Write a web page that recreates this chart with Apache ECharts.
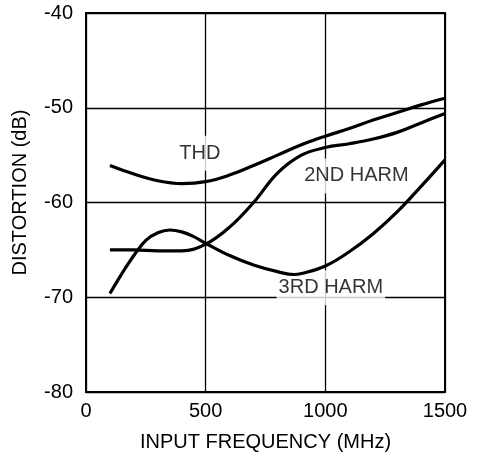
<!DOCTYPE html>
<html>
<head>
<meta charset="utf-8">
<script src="https://cdn.jsdelivr.net/npm/echarts@6/dist/echarts.min.js"></script>
<style>
html,body{margin:0;padding:0;background:#fff;}
#chart{width:477px;height:460px;}
</style>
</head>
<body>
<div id="chart"></div>
<script>
// Input frequency (MHz) and distortion (dB)
var thdX = [100, 200, 300, 400, 500, 600, 700, 800, 900, 1000, 1100, 1200, 1300, 1400, 1500];
var thdY = [-56.1, -57.0, -57.7, -58.0, -57.8, -57.1, -56.1, -55.0, -53.9, -53.0, -52.2, -51.3, -50.5, -49.7, -49.0];

var h2X = [100, 200, 300, 400, 500, 600, 700, 800, 900, 1000, 1100, 1200, 1300, 1400, 1500];
var h2Y = [-65.0, -65.0, -65.1, -65.1, -64.4, -62.6, -60.0, -56.9, -55.0, -54.2, -53.8, -53.3, -52.6, -51.6, -50.6];

var h3X = [100, 150, 200, 250, 300, 350, 400, 450, 500, 600, 700, 800, 870, 900, 1000, 1100, 1200, 1300, 1400, 1500];
var h3Y = [-69.6, -67.5, -65.6, -64.0, -63.2, -62.9, -63.1, -63.6, -64.3, -65.6, -66.6, -67.3, -67.6, -67.5, -66.7, -65.2, -63.3, -61.0, -58.3, -55.5];

var curveLabels = ['THD', '2ND HARM', '3RD HARM'];
var curveLabelX = [476, 1130, 1023];
var curveLabelY = [-54.8, -57.2, -69.0];

var xTicks = [0, 500, 1000, 1500];
var yTicks = [-80, -70, -60, -50, -40];

function pairs(xs, ys) { return xs.map(function (x, i) { return [x, ys[i]]; }); }

var font = 'Liberation Sans, Arial, Helvetica, sans-serif';
var fs = 20;
var lineStyle = { color: '#000', width: 3.2 };

var chart = echarts.init(document.getElementById('chart'), null, { renderer: 'canvas' });
chart.setOption({
  animation: false,
  backgroundColor: '#fff',
  grid: { left: 86, right: 32, top: 13, bottom: 68, show: true, borderColor: '#000', borderWidth: 2, backgroundColor: 'transparent' },
  xAxis: {
    type: 'value', min: xTicks[0], max: xTicks[xTicks.length - 1], interval: 500,
    name: 'INPUT FREQUENCY (MHz)', nameLocation: 'middle', nameGap: 40,
    nameTextStyle: { fontFamily: font, fontSize: fs, color: '#000' },
    axisLine: { show: true, lineStyle: { color: '#000', width: 2 } },
    axisTick: { show: false },
    axisLabel: { fontFamily: font, fontSize: fs, color: '#000', margin: 9, formatter: function (v) { return String(v); } },
    splitLine: { show: true, lineStyle: { color: '#000', width: 1.3 } }
  },
  yAxis: {
    type: 'value', min: yTicks[0], max: yTicks[yTicks.length - 1], interval: 10,
    name: 'DISTORTION (dB)', nameLocation: 'middle', nameGap: 56,
    nameTextStyle: { fontFamily: font, fontSize: fs, color: '#000', padding: [0, 0, 0, 20] },
    axisLine: { show: true, lineStyle: { color: '#000', width: 2 } },
    axisTick: { show: false },
    axisLabel: { fontFamily: font, fontSize: fs, color: '#000', margin: 13, formatter: function (v) { return String(v); } },
    splitLine: { show: true, lineStyle: { color: '#000', width: 1.3 } }
  },
  series: [
    {
      type: 'scatter', z: 1, symbolSize: 0, silent: true,
      data: curveLabels.map(function (n, i) { return [curveLabelX[i], curveLabelY[i], n]; }),
      label: {
        show: true, position: 'inside', color: '#000', fontFamily: font, fontSize: fs,
        backgroundColor: '#fff', padding: [8, 2, 7, 2],
        formatter: function (p) { return p.value[2]; }
      }
    },
    { name: 'THD', type: 'line', z: 3, smooth: 0.4, showSymbol: false, lineStyle: lineStyle, data: pairs(thdX, thdY) },
    { name: '2ND HARM', type: 'line', z: 3, smooth: 0.4, showSymbol: false, lineStyle: lineStyle, data: pairs(h2X, h2Y) },
    { name: '3RD HARM', type: 'line', z: 3, smooth: 0.4, showSymbol: false, lineStyle: lineStyle, data: pairs(h3X, h3Y) }
  ]
});
</script>
</body>
</html>
